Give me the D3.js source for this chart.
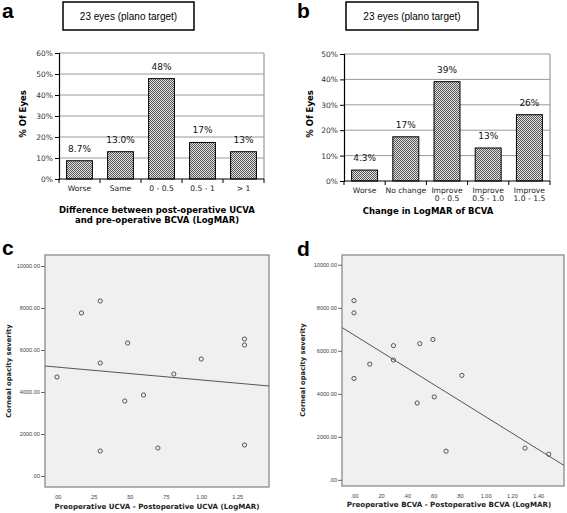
<!DOCTYPE html>
<html><head><meta charset="utf-8">
<script src="https://cdn.jsdelivr.net/npm/d3@7"></script>
<style>body{margin:0;background:#fff}svg{display:block}</style>
</head><body>
<svg id="chart" width="567" height="513"></svg>
<script>
// ---- data ----
const catA = ["Worse", "Same", "0 - 0.5", "0.5 - 1", "> 1"];
const valA = [8.7, 13.0, 47.8, 17.4, 13.0];
const lblA = ["8.7%", "13.0%", "48%", "17%", "13%"];
const yTicksA = [0, 10, 20, 30, 40, 50, 60];

const catB = ["Worse", "No change", "Improve\n0 - 0.5", "Improve\n0.5 - 1.0", "Improve\n1.0 - 1.5"];
const valB = [4.3, 17.4, 39.1, 13.0, 26.1];
const lblB = ["4.3%", "17%", "39%", "13%", "26%"];
const yTicksB = [0, 10, 20, 30, 40, 50];

const cX = [0.00, 0.17, 0.30, 0.30, 0.49, 0.81, 1.00, 1.30, 1.30, 0.47, 0.60, 0.30, 0.70, 1.30];
const cY = [4714, 7762, 8333, 5380, 6333, 4857, 5571, 6524, 6238, 3571, 3857, 1190, 1333, 1476];
const fitC = [5187, -613];   // intercept, slope
const xTicksC = [0, 0.25, 0.5, 0.75, 1.0, 1.25];

const dX = [0.00, 0.00, 0.00, 0.12, 0.30, 0.30, 0.50, 0.60, 0.82, 0.48, 0.61, 0.70, 1.30, 1.48];
const dY = [8333, 7762, 4714, 5380, 6238, 5571, 6333, 6524, 4857, 3571, 3857, 1333, 1476, 1190];
const fitD = [6735, -3800];
const xTicksD = [0, 0.2, 0.4, 0.6, 0.8, 1.0, 1.2, 1.4];

const yTicksS = [0, 2000, 4000, 6000, 8000, 10000];

const titleBox = "23 eyes (plano target)";
const xTitleA = ["Difference between post-operative UCVA", "and pre-operative BCVA (LogMAR)"];
const xTitleB = ["Change in LogMAR of BCVA"];
const yTitleBar = "% Of Eyes";
const xTitleC = "Preoperative UCVA - Postoperative UCVA (LogMAR)";
const xTitleD = "Preoperative BCVA - Postoperative BCVA (LogMAR)";
const yTitleS = "Corneal opacity severity";

// ---- drawing ----
const svg = d3.select("#chart");
const defs = svg.append("defs");
const pat = defs.append("pattern").attr("id", "chk").attr("width", 2).attr("height", 2)
  .attr("patternUnits", "userSpaceOnUse");
pat.append("rect").attr("width", 2).attr("height", 2).attr("fill", "#dedede");
pat.append("rect").attr("width", 1).attr("height", 1).attr("fill", "#5a5a5a");
pat.append("rect").attr("x", 1).attr("y", 1).attr("width", 1).attr("height", 1).attr("fill", "#5a5a5a");

const SANS = "'DejaVu Sans', Verdana, sans-serif";
const ARIAL = "'Liberation Sans', Arial, sans-serif";

function letter(x, y, t) {
  svg.append("text").attr("x", x).attr("y", y).text(t)
    .attr("font-family", ARIAL).attr("font-weight", "bold").attr("font-size", 21).attr("fill", "#000");
}

function box(x, w) {
  svg.append("rect").attr("x", x).attr("y", 2).attr("width", w).attr("height", 28)
    .attr("fill", "#fff").attr("stroke", "#000").attr("stroke-width", 1.5);
  svg.append("text").attr("x", x + w / 2).attr("y", 19.5).attr("text-anchor", "middle")
    .attr("font-family", ARIAL).attr("font-size", 10).text(titleBox);
}

function barPanel(o) {
  const g = svg.append("g");
  const x = d3.scaleBand().domain(o.cats).range([o.left, o.right]).paddingInner(0.37).paddingOuter(0.185);
  const y = d3.scaleLinear().domain([0, o.yMax]).range([o.bottom, o.top]);
  g.selectAll(".grid").data(o.yTicks.filter(t => t > 0)).join("line")
    .attr("x1", o.left).attr("x2", o.right).attr("y1", d => y(d)).attr("y2", d => y(d))
    .attr("stroke", "#9a9a9a").attr("stroke-width", 1);
  g.append("line").attr("x1", o.right).attr("x2", o.right).attr("y1", o.top).attr("y2", o.bottom)
    .attr("stroke", "#9a9a9a").attr("stroke-width", 1.2);
  g.selectAll(".bar").data(o.vals).join("rect")
    .attr("x", (d, i) => x(o.cats[i])).attr("width", x.bandwidth())
    .attr("y", d => y(d)).attr("height", d => y(0) - y(d))
    .attr("fill", "url(#chk)").attr("stroke", "#000").attr("stroke-width", 1);
  g.selectAll(".vl").data(o.vals).join("text")
    .attr("x", (d, i) => x(o.cats[i]) + x.bandwidth() / 2).attr("y", d => y(d) - 9)
    .attr("text-anchor", "middle").attr("font-family", SANS).attr("font-size", 9)
    .attr("fill", "#111").text((d, i) => o.labels[i]);
  const ya = g.append("g").attr("transform", `translate(${o.left},0)`)
    .call(d3.axisLeft(y).tickValues(o.yTicks).tickFormat(d => d + "%").tickSize(4).tickPadding(2));
  ya.select(".domain").attr("stroke", "#000").attr("stroke-width", 1.2);
  ya.selectAll("text").attr("font-family", SANS).attr("font-size", 7.5).attr("fill", "#333");
  g.append("line").attr("x1", o.left).attr("x2", o.right).attr("y1", o.bottom).attr("y2", o.bottom)
    .attr("stroke", "#000").attr("stroke-width", 1.2);
  const bounds = d3.range(o.cats.length + 1).map(i => o.left + i * x.step());
  g.selectAll(".xt").data(bounds).join("line")
    .attr("x1", d => d).attr("x2", d => d).attr("y1", o.bottom).attr("y2", o.bottom + 4)
    .attr("stroke", "#000").attr("stroke-width", 1);
  o.cats.forEach(c => {
    const lines = c.split("\n");
    const t = g.append("text").attr("text-anchor", "middle").attr("font-family", SANS)
      .attr("font-size", 7.6).attr("fill", "#222");
    lines.forEach((ln, j) => t.append("tspan").attr("x", x(c) + x.bandwidth() / 2)
      .attr("y", o.catY + j * 7.8).text(ln));
  });
  o.xTitle.forEach((ln, j) => g.append("text").attr("x", o.xTitleX).attr("y", o.xTitleY + j * 10)
    .attr("text-anchor", "middle").attr("font-family", SANS).attr("font-weight", "bold")
    .attr("font-size", 8.5).text(ln));
  g.append("text").attr("transform", `translate(${o.yTitleX},${o.yTitleY}) rotate(-90)`)
    .attr("text-anchor", "middle").attr("font-family", SANS).attr("font-weight", "bold")
    .attr("font-size", 8.5).text(yTitleBar);
}

function fmtS(d) {
  let s = d3.format(".2f")(d);
  if (s.startsWith("0.")) s = s.slice(1);
  return s;
}

function scatterPanel(o) {
  const g = svg.append("g");
  const x = d3.scaleLinear().domain(o.xDom).range([o.left, o.right]);
  const y = d3.scaleLinear().domain(o.yDom).range([o.bottom, o.top]);
  g.append("rect").attr("x", o.left).attr("y", o.top).attr("width", o.right - o.left)
    .attr("height", o.bottom - o.top).attr("fill", "#f0f0f0").attr("stroke", "#8a8a8a").attr("stroke-width", 1.3);
  const ya = g.append("g").attr("transform", `translate(${o.left},0)`)
    .call(d3.axisLeft(y).tickValues(yTicksS).tickFormat(fmtS).tickSize(4).tickPadding(1));
  ya.select(".domain").remove();
  ya.selectAll("line").attr("stroke", "#666");
  ya.selectAll("text").attr("font-family", ARIAL).attr("font-size", 5.6).attr("fill", "#444");
  const xa = g.append("g").attr("transform", `translate(0,${o.bottom})`)
    .call(d3.axisBottom(x).tickValues(o.xTicks).tickFormat(fmtS).tickSize(0).tickPadding(8));
  xa.select(".domain").remove();
  xa.selectAll("text").attr("font-family", ARIAL).attr("font-size", 5.6).attr("fill", "#444");
  const x0 = o.xDom[0], x1 = o.xDom[1];
  g.append("line").attr("x1", x(x0)).attr("y1", y(o.fit[0] + o.fit[1] * x0))
    .attr("x2", x(x1)).attr("y2", y(o.fit[0] + o.fit[1] * x1))
    .attr("stroke", "#555").attr("stroke-width", 1);
  g.selectAll(".pt").data(o.xs).join("circle")
    .attr("cx", d => x(d)).attr("cy", (d, i) => y(o.ys[i])).attr("r", 2.1)
    .attr("fill", "none").attr("stroke", "#444").attr("stroke-width", 0.9);
  g.append("text").attr("x", o.xTitleX).attr("y", o.xTitleY).attr("text-anchor", "middle")
    .attr("font-family", SANS).attr("font-weight", "bold").attr("font-size", 7.1).attr("fill", "#222")
    .text(o.xTitle);
  g.append("text").attr("transform", `translate(${o.yTitleX},${o.yTitleY}) rotate(-90)`)
    .attr("text-anchor", "middle").attr("font-family", SANS).attr("font-weight", "bold")
    .attr("font-size", 6.8).attr("fill", "#222").text(yTitleS);
}

letter(2, 18, "a");
letter(297, 18, "b");
letter(2, 255, "c");
letter(297, 256, "d");
box(63, 131);
box(346, 132);

barPanel({cats: catA, vals: valA, labels: lblA, yTicks: yTicksA, yMax: 60,
  left: 59, right: 264, top: 53, bottom: 179, catY: 191,
  xTitle: xTitleA, xTitleX: 157, xTitleY: 213, yTitleX: 26, yTitleY: 114});

barPanel({cats: catB, vals: valB, labels: lblB, yTicks: yTicksB, yMax: 50,
  left: 344, right: 550, top: 54, bottom: 181, catY: 193,
  xTitle: xTitleB, xTitleX: 428, xTitleY: 214, yTitleX: 313, yTitleY: 114});

scatterPanel({xs: cX, ys: cY, fit: fitC, xTicks: xTicksC,
  xDom: [-0.083, 1.47], yDom: [-524, 10524], left: 45, right: 269, top: 255, bottom: 487,
  xTitle: xTitleC, xTitleX: 157, xTitleY: 509, yTitleX: 11, yTitleY: 371});

scatterPanel({xs: dX, ys: dY, fit: fitD, xTicks: xTicksD,
  xDom: [-0.091, 1.596], yDom: [-286, 10453], left: 342, right: 564, top: 255, bottom: 486,
  xTitle: xTitleD, xTitleX: 449, xTitleY: 507, yTitleX: 305, yTitleY: 370});
</script>
</body></html>
